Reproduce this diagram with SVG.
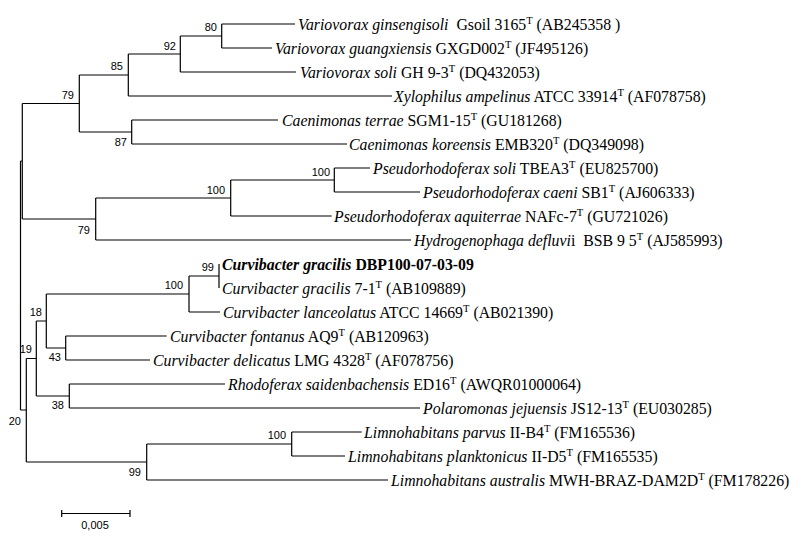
<svg xmlns="http://www.w3.org/2000/svg" width="809" height="536" viewBox="0 0 809 536">
<style>
.t{font-family:"Liberation Serif","Times New Roman",serif;font-size:15.8px;fill:#000}
.i{font-style:italic}
.b{font-weight:bold}
.s{font-size:10.5px}
.bs{font-family:"Liberation Sans",Arial,sans-serif;font-size:11px;fill:#000;text-anchor:end}
.br{stroke:#000;stroke-width:1.2;fill:none}
</style>
<rect width="809" height="536" fill="#fff"/>
<g id="connectors" class="br">
<path d="M20.5 161V410"/>
<path d="M20.5 161H22.3M22.3 103.5V219"/>
<path d="M22.3 103.5H79.3M79.3 75V132"/>
<path d="M79.3 75H128.3M128.3 54V96"/>
<path d="M128.3 54H180.3M180.3 36V72"/>
<path d="M180.3 36H221.7M221.7 24V48"/>
<path d="M221.7 24H295M221.7 48H272M180.3 72H296M128.3 96H392"/>
<path d="M79.3 132H131.7M131.7 120V144M131.7 120H278M131.7 144H347"/>
<path d="M22.3 219H95.7M95.7 198V240"/>
<path d="M95.7 198H230.7M230.7 180V216"/>
<path d="M230.7 180H334.3M334.3 168V192M334.3 168H370M334.3 192H420"/>
<path d="M230.7 216H331.7M95.7 240H411"/>
<path d="M20.5 410H26.3M26.3 358.5V462"/>
<path d="M26.3 358.5H36.3M36.3 321V396"/>
<path d="M36.3 321H46.3M46.3 294V348"/>
<path d="M46.3 294H189M189 276V312"/>
<path d="M189 276H219M219 264V288M189 312H220"/>
<path d="M46.3 348H65.7M65.7 336V360M65.7 336H166.7M65.7 360H150"/>
<path d="M36.3 396H69.3M69.3 384V408M69.3 384H225M69.3 408H420"/>
<path d="M26.3 462H146.7M146.7 444V480"/>
<path d="M146.7 444H291.7M291.7 432V456M291.7 432H361.7M291.7 456H345M146.7 480H388"/>
<path d="M61.7 513.5H130M61.7 510V517M130 510V517"/>
</g>
<g id="scale"><text class="bs" x="95" y="529" style="text-anchor:middle">0,005</text></g>
<g id="bootstrap">
<text class="bs" x="217" y="31">80</text>
<text class="bs" x="176" y="49.5">92</text>
<text class="bs" x="123" y="70">85</text>
<text class="bs" x="74" y="99">79</text>
<text class="bs" x="127" y="146">87</text>
<text class="bs" x="330" y="175.5">100</text>
<text class="bs" x="225" y="193.5">100</text>
<text class="bs" x="90" y="233.5">79</text>
<text class="bs" x="214" y="271">99</text>
<text class="bs" x="183" y="289">100</text>
<text class="bs" x="42" y="316">18</text>
<text class="bs" x="32" y="353">19</text>
<text class="bs" x="61" y="361">43</text>
<text class="bs" x="64" y="409">38</text>
<text class="bs" x="21" y="425">20</text>
<text class="bs" x="286" y="439">100</text>
<text class="bs" x="141" y="476">99</text>
</g>
<g id="leaf1"><text class="t" x="298" y="30" xml:space="preserve"><tspan class="i">Variovorax ginsengisoli</tspan>  Gsoil 3165<tspan class="s" dy="-6">T</tspan><tspan dy="6"> (AB245358 )</tspan></text></g>
<g id="leaf2"><text class="t" x="275" y="54"><tspan class="i">Variovorax guangxiensis</tspan> GXGD002<tspan class="s" dy="-6">T</tspan><tspan dy="6"> (JF495126)</tspan></text></g>
<g id="leaf3"><text class="t" x="300" y="78"><tspan class="i">Variovorax soli</tspan> GH 9-3<tspan class="s" dy="-6">T</tspan><tspan dy="6"> (DQ432053)</tspan></text></g>
<g id="leaf4"><text class="t" x="394" y="102"><tspan class="i">Xylophilus ampelinus</tspan> ATCC 33914<tspan class="s" dy="-6">T</tspan><tspan dy="6"> (AF078758)</tspan></text></g>
<g id="leaf5"><text class="t" x="282" y="126"><tspan class="i">Caenimonas terrae</tspan> SGM1-15<tspan class="s" dy="-6">T</tspan><tspan dy="6"> (GU181268)</tspan></text></g>
<g id="leaf6"><text class="t" x="349" y="150"><tspan class="i">Caenimonas koreensis</tspan> EMB320<tspan class="s" dy="-6">T</tspan><tspan dy="6"> (DQ349098)</tspan></text></g>
<g id="leaf7"><text class="t" x="373" y="174"><tspan class="i">Pseudorhodoferax soli</tspan> TBEA3<tspan class="s" dy="-6">T</tspan><tspan dy="6"> (EU825700)</tspan></text></g>
<g id="leaf8"><text class="t" x="423" y="198"><tspan class="i">Pseudorhodoferax caeni</tspan> SB1<tspan class="s" dy="-6">T</tspan><tspan dy="6"> (AJ606333)</tspan></text></g>
<g id="leaf9"><text class="t" x="334" y="222"><tspan class="i">Pseudorhodoferax aquiterrae</tspan> NAFc-7<tspan class="s" dy="-6">T</tspan><tspan dy="6"> (GU721026)</tspan></text></g>
<g id="leaf10"><text class="t" x="414" y="246" xml:space="preserve"><tspan class="i">Hydrogenophaga defluvi</tspan>i  BSB 9 5<tspan class="s" dy="-6">T</tspan><tspan dy="6"> (AJ585993)</tspan></text></g>
<g id="leaf11"><text class="t b" x="222" y="270"><tspan class="i">Curvibacter gracilis</tspan> DBP100-07-03-09</text></g>
<g id="leaf12"><text class="t" x="222" y="294"><tspan class="i">Curvibacter gracilis</tspan> 7-1<tspan class="s" dy="-6">T</tspan><tspan dy="6"> (AB109889)</tspan></text></g>
<g id="leaf13"><text class="t" x="223" y="318"><tspan class="i">Curvibacter lanceolatus</tspan> ATCC 14669<tspan class="s" dy="-6">T</tspan><tspan dy="6"> (AB021390)</tspan></text></g>
<g id="leaf14"><text class="t" x="170" y="342"><tspan class="i">Curvibacter fontanus</tspan> AQ9<tspan class="s" dy="-6">T</tspan><tspan dy="6"> (AB120963)</tspan></text></g>
<g id="leaf15"><text class="t" x="153" y="366"><tspan class="i">Curvibacter delicatus</tspan> LMG 4328<tspan class="s" dy="-6">T</tspan><tspan dy="6"> (AF078756)</tspan></text></g>
<g id="leaf16"><text class="t" x="228" y="390"><tspan class="i">Rhodoferax saidenbachensis</tspan> ED16<tspan class="s" dy="-6">T</tspan><tspan dy="6"> (AWQR01000064)</tspan></text></g>
<g id="leaf17"><text class="t" x="423" y="414"><tspan class="i">Polaromonas jejuensis</tspan> JS12-13<tspan class="s" dy="-6">T</tspan><tspan dy="6"> (EU030285)</tspan></text></g>
<g id="leaf18"><text class="t" x="364" y="438"><tspan class="i">Limnohabitans parvus</tspan> II-B4<tspan class="s" dy="-6">T</tspan><tspan dy="6"> (FM165536)</tspan></text></g>
<g id="leaf19"><text class="t" x="348" y="462"><tspan class="i">Limnohabitans planktonicus</tspan> II-D5<tspan class="s" dy="-6">T</tspan><tspan dy="6"> (FM165535)</tspan></text></g>
<g id="leaf20"><text class="t" x="391" y="486"><tspan class="i">Limnohabitans australis</tspan> MWH-BRAZ-DAM2D<tspan class="s" dy="-6">T</tspan><tspan dy="6"> (FM178226)</tspan></text></g>
</svg>
